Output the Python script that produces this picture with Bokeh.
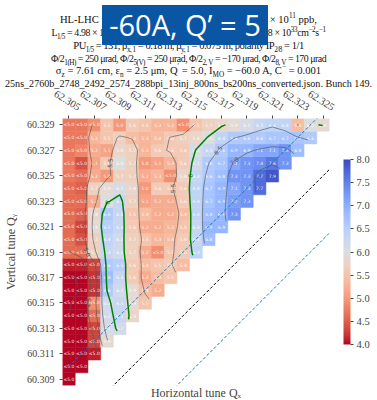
import numpy as np
import contourpy
from bokeh.plotting import figure
from bokeh.models import (ColumnDataSource, LinearColorMapper, ColorBar, FixedTicker,
                          PrintfTickFormatter, CustomJSTickFormatter, LinearAxis, Div, Range1d)
from bokeh.layouts import column, row
from bokeh.embed import file_html
from bokeh.resources import INLINE
from bokeh.core.properties import value

# ---------------- data ----------------
qx = [62.305, 62.306, 62.307, 62.308, 62.309, 62.310, 62.311, 62.312, 62.313, 62.314, 62.315,
      62.316, 62.317, 62.318, 62.319, 62.320, 62.321, 62.322, 62.323, 62.324, 62.325]
qy = [60.309, 60.310, 60.311, 60.312, 60.313, 60.314, 60.315, 60.316, 60.317, 60.318, 60.319,
      60.320, 60.321, 60.322, 60.323, 60.324, 60.325, 60.326, 60.327, 60.328, 60.329]

# minimum DA per row, row k holds Qy = qy[k], values for Qx = qx[0..k]
da_min = [
    [4.0],
    [4.0, 4.0],
    [4.0, 4.0, 4.1],
    [4.0, 4.0, 4.3, 5.9],
    [4.0, 4.0, 4.3, 6.1, 6.2],
    [4.0, 4.0, 4.6, 6.2, 6.3, 5.8],
    [4.0, 3.9, 4.9, 6.2, 6.3, 5.9, 5.5],
    [3.9, 3.9, 4.2, 6.6, 6.2, 5.9, 5.4, 5.2],
    [3.9, 3.9, 4.2, 6.8, 6.3, 5.6, 5.2, 5.4, 5.5],
    [4.1, 4.1, 4.3, 6.6, 6.5, 5.6, 5.4, 5.5, 5.6, 5.4],
    [4.6, 4.6, 5.7, 6.3, 6.2, 5.7, 5.2, 4.9, 5.5, 5.6, 6.4],
    [4.6, 4.4, 5.7, 6.4, 6.2, 5.7, 5.5, 5.3, 5.4, 5.6, 6.3, 6.8],
    [4.6, 4.3, 5.9, 6.5, 6.3, 5.6, 5.2, 5.2, 5.3, 5.5, 6.3, 6.9, 6.9],
    [4.6, 4.5, 5.8, 6.6, 6.3, 5.5, 5.4, 5.2, 5.2, 5.4, 6.4, 6.8, 6.9, 7.3],
    [4.6, 4.6, 5.2, 6.0, 6.3, 5.7, 5.1, 5.2, 5.2, 5.6, 6.4, 6.7, 6.9, 7.2, 7.3],
    [4.6, 4.5, 5.7, 5.9, 6.1, 5.8, 5.0, 5.6, 5.6, 5.6, 6.4, 6.7, 6.9, 7.1, 7.3, 7.7],
    [4.7, 4.6, 5.2, 5.0, 5.7, 5.7, 5.2, 5.3, 4.9, 5.8, 6.3, 6.6, 6.8, 7.3, 7.3, 7.7, 7.9],
    [4.7, 4.4, 5.1, 5.6, 6.0, 5.7, 5.0, 5.1, 5.3, 5.6, 6.2, 6.6, 6.7, 7.1, 7.3, 7.4, 7.6, 7.3],
    [4.7, 4.8, 5.2, 5.1, 5.8, 5.7, 5.3, 5.6, 5.6, 5.6, 6.1, 6.3, 6.6, 6.9, 6.9, 7.1, 7.1, 7.3, 6.8],
    [4.7, 4.7, 5.3, 5.5, 5.7, 5.4, 5.3, 5.4, 5.6, 5.7, 5.8, 6.0, 6.4, 6.6, 6.6, 6.6, 6.7, 6.7, 6.7, 6.6],
    [4.7, 4.7, 4.9, 5.5, 5.0, 5.6, 5.5, 5.3, 5.3, 4.9, 5.5, 5.7, 5.8, 5.9, 6.1, 6.3, 6.4, 6.4, 5.4, 6.0, 5.9],
]

x_ticks = [62.305, 62.307, 62.309, 62.311, 62.313, 62.315, 62.317, 62.319, 62.321, 62.323, 62.325]
y_ticks = [60.309, 60.311, 60.313, 60.315, 60.317, 60.319, 60.321, 60.323, 60.325, 60.327, 60.329]
cb_ticks = [4.0, 4.5, 5.0, 5.5, 6.0, 6.5, 7.0, 7.5, 8.0]
grey_levels = [4.0, 4.5, 5.0, 5.5, 6.5, 7.0, 7.5]
green_levels = [6.0]
label_threshold = 5.0
resonance_offsets = [2.0, 1.995, 2.005]
resonance_colors = ["black", "#1f77b4", "#1f77b4"]

# ---------------- colormap (coolwarm reversed) ----------------
_cw = [(59, 76, 192), (68, 90, 204), (77, 104, 215), (87, 117, 225), (98, 130, 234),
       (108, 142, 241), (119, 154, 247), (130, 165, 251), (141, 176, 254), (152, 185, 255),
       (163, 194, 255), (174, 201, 253), (184, 208, 249), (194, 213, 244), (204, 217, 238),
       (213, 219, 230), (221, 221, 221), (229, 216, 209), (236, 211, 197), (241, 204, 184),
       (245, 196, 172), (247, 187, 160), (247, 177, 148), (247, 166, 137), (244, 154, 123),
       (241, 141, 111), (236, 127, 99), (229, 112, 88), (222, 96, 77), (213, 80, 66),
       (203, 62, 56), (192, 40, 47), (180, 4, 38)]
_cw = np.array(_cw, dtype=float)
_t = np.linspace(0, 1, len(_cw))
palette = []
for s in np.linspace(1, 0, 256):
    c = [int(round(np.interp(s, _t, _cw[:, k]))) for k in range(3)]
    palette.append("#%02x%02x%02x" % tuple(c))
mapper = LinearColorMapper(palette=palette, low=cb_ticks[0], high=cb_ticks[-1])

# ---------------- cells ----------------
xs, ys, vals, labs = [], [], [], []
for k, rw in enumerate(da_min):
    for i, v in enumerate(rw):
        xs.append(qx[i]); ys.append(qy[k]); vals.append(v)
        labs.append("≤%.1f" % label_threshold if v < label_threshold else "%.1f" % v)
src = ColumnDataSource(dict(x=xs, y=ys, v=vals, t=labs))

dq = qx[1] - qx[0]
FW, FH = 267, 267
BL, BR, BT, BB = 59, 47, 5, 15
TOP_H = 113          # height of the html block above the plot (title + x tick labels)
SIDE_W = 4           # narrow strip right of the plot holding the colour-bar label
x0, x1 = qx[0] - dq / 2, qx[-1] + dq / 2
y0, y1 = qy[0] - dq / 2, qy[-1] + dq / 2

p = figure(frame_width=FW, frame_height=FH, output_backend="svg",
           toolbar_location=None, title=None, x_axis_location="above",
           x_range=Range1d(x0, x1), y_range=Range1d(y0, y1),
           min_border_left=BL, min_border_right=BR, min_border_top=BT, min_border_bottom=BB)
p.outline_line_color = None
p.grid.visible = False

p.rect("x", "y", width=dq, height=dq, source=src,
       fill_color={"field": "v", "transform": mapper},
       line_color={"field": "v", "transform": mapper}, line_width=0.5)
p.text("x", "y", text="t", source=src, text_font=value("DejaVu Sans"),
       text_font_size="4.5px", text_color="white", text_alpha=0.9,
       text_align="center", text_baseline="middle")

# ---------------- contours (on a lightly smoothed field) ----------------
Z = np.full((len(qy), len(qx)), np.nan)
for k, rw in enumerate(da_min):
    Z[k, :len(rw)] = rw
M = np.isfinite(Z)
sig = 0.7
r = np.arange(-3, 4)
ker = np.exp(-r ** 2 / (2 * sig ** 2))


def conv2(a):
    a = np.apply_along_axis(lambda v: np.convolve(v, ker, mode="same"), 0, a)
    return np.apply_along_axis(lambda v: np.convolve(v, ker, mode="same"), 1, a)


Zs = conv2(np.where(M, Z, 0.0)) / np.maximum(conv2(M.astype(float)), 1e-9)
Zs[~M] = np.nan
gen = contourpy.contour_generator(np.array(qx), np.array(qy), np.ma.masked_invalid(Zs))


def draw_levels(levels, color, width, alpha, fmt):
    for lev in levels:
        lines = [ln for ln in gen.lines(lev) if len(ln) > 1]
        if not lines:
            continue
        p.multi_line([list(ln[:, 0]) for ln in lines], [list(ln[:, 1]) for ln in lines],
                     line_color=color, line_width=width, line_alpha=alpha)
        lx, ly, la, lt = [], [], [], []
        for ln in lines:
            seg = np.hypot(np.diff(ln[:, 0]), np.diff(ln[:, 1]))
            if seg.sum() < 4 * dq:
                continue
            m = len(ln) // 2
            a = ln[min(m + 1, len(ln) - 1)] - ln[max(m - 1, 0)]
            ang = np.arctan2(a[1], a[0])
            if ang > np.pi / 2:
                ang -= np.pi
            if ang < -np.pi / 2:
                ang += np.pi
            lx.append(ln[m, 0]); ly.append(ln[m, 1]); la.append(ang); lt.append(fmt(lev))
        if lx:
            p.text(lx, ly, text=lt, angle=la, text_font=value("DejaVu Sans"),
                   text_font_size="6px", text_color=color, text_align="center",
                   text_baseline="middle")


draw_levels(grey_levels, "#555555", 0.8, 0.8, lambda v: "%.1f" % v)
draw_levels(green_levels, "green", 1.5, 1.0, lambda v: "%g" % v)

# ---------------- resonance lines ----------------
xl = np.array([qx[0], qx[-1] + 2 * dq])
for off, col in zip(resonance_offsets, resonance_colors):
    p.line(xl, xl - off, line_color=col, line_width=1, line_dash="3 2")

# ---------------- axes ----------------
serif = "Liberation Serif"
xa = p.xaxis[0]
xa.ticker = FixedTicker(ticks=x_ticks)
xa.formatter = CustomJSTickFormatter(code="return ''")
xa.major_label_standoff = 0
ya = p.yaxis[0]
ya.ticker = FixedTicker(ticks=y_ticks)
ya.formatter = PrintfTickFormatter(format="%.3f")
ya.axis_label = "Vertical tune Qᵧ"
ya.major_label_text_font_size = "10px"
for ax in (xa, ya):
    ax.axis_line_color = None
    ax.minor_tick_line_color = None
    ax.major_tick_in = 0
    ax.major_tick_out = 3
    ax.major_tick_line_color = "#444444"
    ax.major_label_text_font = serif
    ax.major_label_text_color = "#444444"
    ax.axis_label_text_font = serif
    ax.axis_label_text_font_size = "12px"
    ax.axis_label_text_font_style = "normal"
    ax.axis_label_text_color = "#444444"
ya.major_label_standoff = 5
ya.axis_label_standoff = 6

xb = LinearAxis(axis_label="Horizontal tune Qₓ", ticker=FixedTicker(ticks=[]),
                axis_line_color=None, major_tick_line_color=None, minor_tick_line_color=None,
                major_label_standoff=0, axis_label_standoff=0,
                major_tick_out=0, major_tick_in=0,
                axis_label_text_font=serif, axis_label_text_font_size="12px",
                axis_label_text_font_style="normal", axis_label_text_color="#444444")
p.add_layout(xb, "below")

cb_h = 185
cb = ColorBar(color_mapper=mapper, ticker=FixedTicker(ticks=cb_ticks),
              formatter=PrintfTickFormatter(format="%.1f"), width=7, height=cb_h,
              location=(FW + 14, (FH - cb_h) / 2), margin=0, padding=0,
              major_tick_in=0, major_tick_out=3, major_tick_line_color="#444444",
              major_label_text_font=serif, major_label_text_font_size="10.5px",
              major_label_text_color="#444444", bar_line_color=None, label_standoff=3)
p.add_layout(cb)

# ---------------- title + rotated x tick labels (html block above the plot) ----------------
def sb(t):
    return '<sub style="font-size:7.2px;line-height:0">%s</sub>' % t


def sp(t):
    return '<sup style="font-size:7.2px;line-height:0">%s</sup>' % t


title_lines = [
    "HL-LHC v1.6, at the end of levelling, N" + sb("b") + " ≃ 1.03 × 10" + sp("11") + " ppb,",
    "L" + sb("1/5") + " = 4.98 × 10" + sp("34") + "cm" + sp("−2") + "s" + sp("−1") + ", L" + sb("2")
    + " = 1.41 × 10" + sp("30") + "cm" + sp("−2") + "s" + sp("−1") + ", L" + sb("8") + " = 1.98 × 10"
    + sp("33") + "cm" + sp("−2") + "s" + sp("−1"),
    "PU" + sb("1/5") + " = 131, β" + sb("x, 1") + " = 0.18 m, β" + sb("y, 1")
    + " = 0.075 m, polarity IP" + sb("2/8") + " = 1/1",
    "Φ/2" + sb("1(H)") + " = 250 μrad, Φ/2" + sb("5(V)") + " = 250 μrad, Φ/2" + sb("2, V")
    + " = −170 μrad, Φ/2" + sb("8, V") + " = 170 μrad",
    "σ" + sb("z") + " = 7.61 cm, ε" + sb("n") + " = 2.5 μm, Q" + sp("′") + " = 5.0, I" + sb("MO")
    + " = −60.0 A, C" + sp("−") + " = 0.001",
    "25ns_2760b_2748_2492_2574_288bpi_13inj_800ns_bs200ns_converted.json. Bunch 149.",
]
line_sizes = [10.6, 9.9, 10.6, 9.9, 10.6, 10.1]
line_spacing = [0, -0.4, -0.5, -0.5, 0, 0]
badge = "-60A, Q’ = 5"

W = BL + FW + BR + SIDE_W
LH = 12.85
rows_html = "".join(
    '<div style="text-align:center;height:%spx;line-height:%spx;font-size:%spx;'
    'letter-spacing:%spx;white-space:nowrap;">%s</div>' % (LH, LH, fs, ls, ln)
    for ln, fs, ls in zip(title_lines, line_sizes, line_spacing))

tick_html = ""
for v in x_ticks:
    cx = BL + (v - x0) / (x1 - x0) * FW + 1.8
    tick_html += ('<span style="position:absolute;left:%.1fpx;top:%dpx;'
                  'transform:translate(-50%%,-50%%) rotate(32deg);font-size:10.5px;'
                  'color:#444;white-space:nowrap;line-height:1;">%.3f</span>'
                  % (cx, TOP_H - 12, v))

html = ('<div style="position:relative;width:%dpx;height:%dpx;font-family:\'Liberation Serif\';">'
        % (W, TOP_H)
        + '<div style="padding-top:14px;color:#111;">' + rows_html + '</div>'
        + tick_html
        + '<div style="position:absolute;left:101.7px;top:5px;width:166.6px;height:40px;'
        'background:#0b56a4;color:white;font-family:\'Open Sans\';font-size:29px;'
        'line-height:40px;text-align:center;white-space:nowrap;">' + badge + '</div></div>')
top_div = Div(text=html, width=W, height=TOP_H, margin=0)

# colour-bar label, mostly beyond the right edge like in the original
fig_h = BT + FH + BB
side_html = ('<div style="position:relative;width:%dpx;height:%dpx;overflow:hidden;">'
             '<span style="position:absolute;left:6px;top:%.1fpx;'
             'transform:translate(-50%%,-50%%) rotate(-90deg);font-family:\'Liberation Serif\';'
             'font-size:12px;color:#444;white-space:nowrap;line-height:1;">Minimum DA (σ)</span></div>'
             % (SIDE_W, fig_h, BT + FH / 2))
side_div = Div(text=side_html, width=SIDE_W, height=fig_h, margin=0)

layout = column(top_div, row(p, side_div, spacing=0), spacing=0)
open("out.html", "w").write(file_html(layout, INLINE))
